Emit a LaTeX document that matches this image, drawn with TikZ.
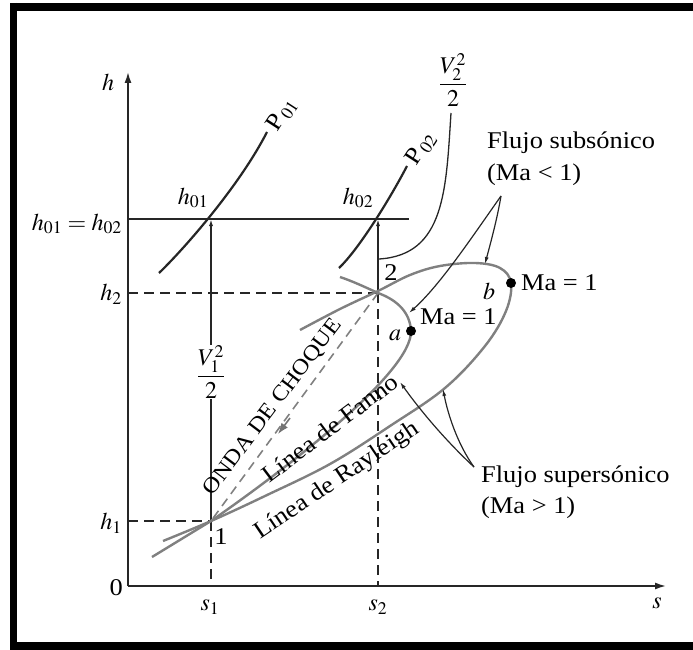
\documentclass[tikz,border=0pt]{standalone}
\usepackage{mathptmx}
\usepackage{fontspec}
\setmainfont{Liberation Serif}[FakeStretch=1.1]
\usetikzlibrary{arrows.meta}
\begin{document}
\begin{tikzpicture}[x=1pt,y=-1pt,
  every node/.style={font=\fontsize{24}{28}\selectfont, inner sep=0pt},
  axisline/.style={line width=1.6pt, black!85},
  guide/.style={line width=1.5pt, black!85},
  dashguide/.style={line width=1.5pt, black!85, dash pattern=on 10pt off 6pt},
  pcurve/.style={line width=2.2pt, black!85},
  flowcurve/.style={line width=2.4pt, black!50},
  pointer/.style={line width=1.2pt, black!85, -{Latex[length=7pt,width=4pt]}},
  sonic/.style={circle, fill=black, minimum size=10pt},
  frameline/.style={line width=7.5pt, black}
]
\useasboundingbox (0,0) rectangle (693,650);
% frame
\draw[frameline] (13.5,7) -- (693,7);
\draw[frameline] (13.5,3) -- (13.5,650);
\draw[frameline] (10,646) -- (693,646);

% axes
\coordinate (O) at (128,586);
\coordinate (ytop) at (128,72);
\coordinate (xend) at (666,586);
\draw[axisline,-{Latex[length=11pt,width=7pt]}] (O) -- (ytop);
\draw[axisline,-{Latex[length=11pt,width=7pt]}] (O) -- (xend);
\node[anchor=east] (zero) at (123,588) {0};
\node (hlab) at (108,82) {$h$};
\node (slab) at (657,603) {$s$};

% key points
\coordinate (p1) at (211,521);
\coordinate (p2) at (378,293);
\coordinate (h01) at (211,219);
\coordinate (h02) at (378,219);
\coordinate (s1) at (211,586);
\coordinate (s2) at (378,586);
\coordinate (yh0) at (128,219);
\coordinate (yh2) at (128,293);
\coordinate (yh1) at (128,521);
\coordinate (hend) at (409,219);

% stagnation line and guides
\draw[guide] (yh0) -- (hend);
\draw[dashguide] (yh2) -- (p2);
\draw[dashguide] (yh1) -- (p1);
\draw[dashguide] (p1) -- (s1);
\draw[dashguide] (p2) -- (s2);

% axis labels
\node[anchor=east] (h0eq) at (122,224) {$h_{01}=h_{02}$};
\node[anchor=east] (h2lab) at (122,294) {$h_{2}$};
\node[anchor=east] (h1lab) at (122,523) {$h_{1}$};
\node (s1lab) at (210,607) {$s_{1}$};
\node (s2lab) at (378,607) {$s_{2}$};
\node (h01lab) at (193,198) {$h_{01}$};
\node (h02lab) at (358,198) {$h_{02}$};

% velocity head at 1
\node (v1) at (211,372) {$\displaystyle\frac{V_1^2}{2}$};
\draw[guide] (p1) -- (v1.south);
\draw[guide,-{Latex[length=7pt,width=4pt]}] (v1.north) -- (h01);
\draw[guide,-{Latex[length=7pt,width=4pt]}] (p2) -- (h02);

% pressure curves
\draw[pcurve] (159,273) .. controls (185,248) and (240,185) .. (267,132);
\node[rotate=57] (P01) at (282,115) {P$_{\,01}$};
\draw[pcurve] (339,268) .. controls (360,248) and (392,195) .. (407,166);
\node[rotate=57] (P02) at (421,149) {P$_{\,02}$};

% V2^2/2 label and leader
\node (v2) at (453,80) {$\displaystyle\frac{V_2^2}{2}$};
\coordinate (v2end) at (379,259);
\draw[guide,line width=1.3pt] (451,113) .. controls (446,190) and (445,255) .. (v2end);

% Fanno line
\coordinate (fa0) at (152,557);
\coordinate (fa9) at (340,277);
\draw[flowcurve] (fa0) -- (p1) .. controls (290,466) and (412,372) .. (411,331)
  .. controls (410,312) and (397,300) .. (p2) .. controls (365,287) and (352,281) .. (fa9);
% Rayleigh line
\draw[flowcurve] plot[smooth, tension=0.6] coordinates {
  (163,541) (211,521) (265,496) (330,464) (390,426) (445,388) (485,346)
  (506,311) (511,283) (500,268) (475,263) (440,266) (410,275) (378,291)
  (340,309) (300,330)};

% shock wave
\draw[flowcurve, line width=1.6pt, dash pattern=on 9pt off 6pt] (p2) -- (p1);
\coordinate (shockmid) at (278,434);
\draw[black!55, line width=1.6pt, -{Latex[length=11pt,width=8pt]}] (290,418) -- (shockmid);

% points and labels
\node (two) at (391,273) {2};
\node (one) at (221,537) {1};
\node[sonic] (a) at (411,331) {};
\node[sonic] (b) at (511,283) {};
\node (alab) at (395,335) {$a$};
\node (blab) at (489,291) {$b$};
\node[anchor=west] (maa) at (420,317) {Ma = 1};
\node[anchor=west] (mab) at (521,283) {Ma = 1};

% rotated line labels
\node[rotate=53] (onda) at (273,407) {\fontsize{22}{26}\selectfont ONDA DE CHOQUE};
\node[rotate=37] (fanno) at (330,428) {Línea de Fanno};
\node[rotate=34] (rayl) at (337,481) {Línea de Rayleigh};

% flow regime notes
\node[anchor=west] (sub1) at (487,143) {Flujo subsónico};
\node[anchor=west] (sub2) at (487,175) {(Ma < 1)};
\node[anchor=west] (sup1) at (481,477) {Flujo supersónico};
\node[anchor=west] (sup2) at (481,508) {(Ma > 1)};
\coordinate (subtip) at (501,196);
\coordinate (suptip) at (474,467);
\draw[pointer] (subtip) .. controls (497,220) and (490,245) .. (485,264);
\draw[pointer] (subtip) .. controls (470,240) and (440,285) .. (409,313);
\draw[pointer] (suptip) .. controls (445,440) and (420,410) .. (400,382);
\draw[pointer] (suptip) .. controls (458,445) and (448,415) .. (443,389);
\end{tikzpicture}
\end{document}
